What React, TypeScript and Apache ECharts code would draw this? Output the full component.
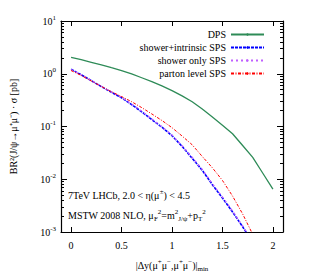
import React, { useEffect, useRef } from "react";
import * as echarts from "echarts";

const xValues = [0, 0.1, 0.2, 0.3, 0.4, 0.5, 0.6, 0.7, 0.8, 0.9, 1.0, 1.1, 1.2, 1.3, 1.4, 1.5, 1.6, 1.7, 1.8, 1.9, 2.0];
const dpsValues = [2.05, 1.85, 1.65, 1.47, 1.3, 1.15, 0.99, 0.84, 0.71, 0.59, 0.48, 0.38, 0.295, 0.215, 0.152, 0.106, 0.073, 0.0437, 0.026, 0.013, 0.0065];
const showerIntrinsicValues = [1.22, 0.955, 0.74, 0.57, 0.445, 0.35, 0.26, 0.19, 0.135, 0.097, 0.067, 0.042, 0.025, 0.0148, 0.0079, 0.0044, 0.0024, 0.00126, 0.00063];
const showerOnlyValues = [1.2, 0.95, 0.74, 0.575, 0.45, 0.355, 0.265, 0.195, 0.138, 0.099, 0.069, 0.043, 0.026, 0.0153, 0.0082, 0.0046, 0.0025, 0.0013, 0.00066];
const partonValues = [1.15, 0.93, 0.73, 0.575, 0.455, 0.37, 0.295, 0.228, 0.173, 0.13, 0.095, 0.066, 0.045, 0.027, 0.0165, 0.0095, 0.0048, 0.0022, 0.0009];

const seriesNames = ["DPS", "shower+intrinsic SPS", "shower only SPS", "parton level SPS"];
const xTickValues = [0, 0.5, 1, 1.5, 2];
const yMinorLogTicks: number[] = [];
for (let d = -3; d < 1; d++) {
  for (let k = 2; k <= 9; k++) yMinorLogTicks.push(d + Math.log10(k));
}

const FONT = "Liberation Serif";

function pairs(vals: number[]) {
  return vals.map((v, i) => [xValues[i], v]);
}

export default function App() {
  const ref = useRef<HTMLDivElement>(null);
  useEffect(() => {
    if (!ref.current) return;
    const chart = echarts.init(ref.current, undefined, { renderer: "svg" });
    const supRich = {
      sup: { fontSize: 7, fontFamily: FONT, color: "#000", verticalAlign: "top", lineHeight: 8 },
      sub: { fontSize: 7, fontFamily: FONT, color: "#000", verticalAlign: "bottom", lineHeight: 8 },
    };
    const axisLine = { show: true, onZero: false, lineStyle: { color: "#000", width: 1.2 } };
    const xAxisBase = {
      type: "value",
      min: -0.1,
      max: 2.1,
      axisLine,
      splitLine: { show: false },
      axisTick: { show: true, inside: true, length: 5, customValues: xTickValues, lineStyle: { color: "#000" } },
    };
    const logAxisBase = {
      type: "log",
      logBase: 10,
      min: 0.001,
      max: 10,
      axisLine,
      splitLine: { show: false },
      minorTick: { show: false },
      axisTick: { show: true, inside: true, length: 6, lineStyle: { color: "#000" } },
    };
    const minorAxisBase = {
      type: "value",
      min: -3,
      max: 1,
      axisLine: { show: false, onZero: false },
      splitLine: { show: false },
      axisLabel: { show: false },
      axisTick: { show: true, inside: true, length: 3, customValues: yMinorLogTicks, lineStyle: { color: "#000" } },
    };
    chart.setOption({
      animation: false,
      backgroundColor: "#fff",
      textStyle: { fontFamily: FONT },
      grid: { left: 59, right: 33, top: 21, bottom: 39, containLabel: false },
      legend: {
        orient: "vertical",
        align: "right",
        right: 46,
        top: 24,
        itemWidth: 33,
        itemHeight: 3,
        itemGap: 2,
        textStyle: { fontFamily: FONT, fontSize: 10, color: "#000", lineHeight: 11 },
        data: seriesNames,
      },
      xAxis: [
        {
          ...xAxisBase,
          position: "bottom",
          axisLabel: {
            show: true,
            customValues: xTickValues,
            margin: 8,
            color: "#000",
            fontFamily: FONT,
            fontSize: 10,
            formatter: (v: number) => String(v),
          },
          name: "|Δy(μ{sup|+}μ{sup|−},μ{sup|+}μ{sup|−})|{sub|min}",
          nameLocation: "middle",
          nameGap: 26,
          nameTextStyle: { color: "#000", fontFamily: FONT, fontSize: 10, lineHeight: 14, rich: supRich },
        },
        { ...xAxisBase, position: "top", axisLabel: { show: false } },
      ],
      yAxis: [
        {
          ...logAxisBase,
          position: "left",
          axisLabel: {
            show: true,
            margin: 5,
            color: "#000",
            fontFamily: FONT,
            fontSize: 10,
            lineHeight: 14,
            rich: supRich,
            formatter: (v: number) => "10{sup|" + Math.round(Math.log10(v)) + "}",
          },
          name: "BR²(J/ψ→μ⁺μ⁻) · σ [pb]",
          nameLocation: "middle",
          nameGap: 43,
          nameRotate: 90,
          nameTextStyle: { color: "#000", fontFamily: FONT, fontSize: 10 },
        },
        { ...logAxisBase, position: "right", axisLabel: { show: false } },
        { ...minorAxisBase, position: "left" },
        { ...minorAxisBase, position: "right" },
      ],
      graphic: [
        {
          type: "text",
          left: 68,
          top: 188,
          style: {
            text: "7TeV LHCb, 2.0 < η(μ{sup|±}) < 4.5",
            fontFamily: FONT,
            fontSize: 10,
            lineHeight: 14,
            fill: "#000",
            rich: supRich,
          },
        },
        {
          type: "text",
          left: 68,
          top: 208,
          style: {
            text: "MSTW 2008 NLO, μ{sub|F}{sup|2}=m{sup|2}{sub|J/ψ}+p{sub|T}{sup|2}",
            fontFamily: FONT,
            fontSize: 10,
            lineHeight: 14,
            fill: "#000",
            rich: supRich,
          },
        },
      ],
      series: [
        {
          name: seriesNames[0],
          type: "line",
          symbol: "none",
          data: pairs(dpsValues),
          lineStyle: { color: "#2e8b57", width: 1.3, type: "solid" },
          itemStyle: { color: "#2e8b57" },
        },
        {
          name: seriesNames[1],
          type: "line",
          symbol: "none",
          data: pairs(showerIntrinsicValues),
          lineStyle: { color: "#0000ff", width: 1.6, type: [3, 1] },
          itemStyle: { color: "#0000ff" },
        },
        {
          name: seriesNames[2],
          type: "line",
          symbol: "none",
          data: pairs(showerOnlyValues),
          lineStyle: { color: "#c060ff", width: 1.4, type: [2, 3] },
          itemStyle: { color: "#c060ff" },
        },
        {
          name: seriesNames[3],
          type: "line",
          symbol: "none",
          data: pairs(partonValues),
          lineStyle: { color: "#ff0000", width: 1, type: [3, 1.5, 1, 1.5] },
          itemStyle: { color: "#ff0000" },
        },
      ],
    });
    return () => chart.dispose();
  }, []);
  return <div ref={ref} style={{ position: "fixed", left: 0, top: 0, width: 316, height: 277 }} />;
}
